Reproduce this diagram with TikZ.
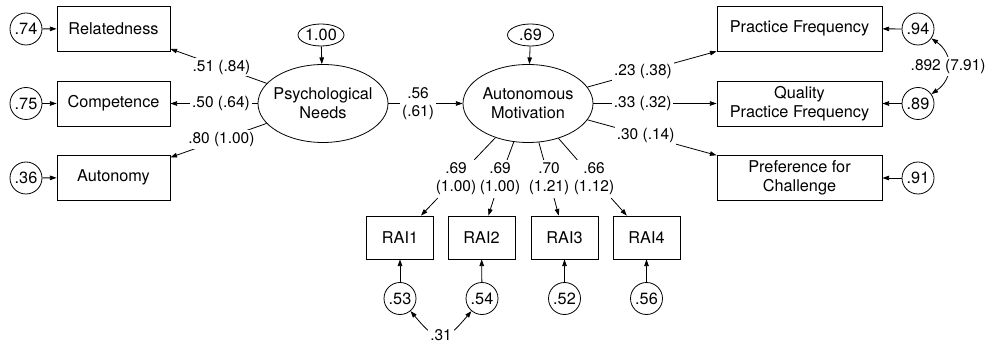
\documentclass[tikz,border=0pt]{standalone}
\usepackage{fontspec}
\setmainfont{TeX Gyre Heros}
\usetikzlibrary{arrows.meta,shapes.geometric}
\begin{document}
\begin{tikzpicture}[x=0.75pt,y=0.75pt,
  every node/.style={font=\fontsize{12.2}{14.5}\selectfont},
  lw/.style={line width=0.6pt},
  arr/.style={lw,-{Triangle[length=5pt,width=3.4pt]}},
  arrboth/.style={lw,{Triangle[length=5pt,width=3.4pt]}-{Triangle[length=5pt,width=3.4pt]}},
  lbox/.style={draw,lw,minimum width=84.75pt,minimum height=33.75pt,inner sep=0pt,align=center},
  rbox/.style={draw,lw,minimum width=123.75pt,minimum height=33.75pt,inner sep=0pt,align=center},
  raibox/.style={draw,lw,minimum width=50.25pt,minimum height=32.25pt,inner sep=0pt},
  bigell/.style={draw,lw,ellipse,minimum width=97.5pt,minimum height=58.5pt,inner xsep=-5pt,inner ysep=0pt,align=center},
  smallell/.style={draw,lw,ellipse,minimum width=34.5pt,minimum height=16.5pt,inner xsep=-3pt,inner ysep=-3pt},
  err/.style={draw,lw,circle,minimum size=24pt,inner sep=0pt},
  lbl/.style={fill=white,inner sep=1.5pt,font=\fontsize{11.6}{14}\selectfont},
  rlbl/.style={inner sep=2pt,align=center,font=\fontsize{11.6}{13.6}\selectfont}]
\useasboundingbox (0,0) rectangle (988,-345);
% left observed
\node[lbox] (Rel) at (113.5,-28.5) {Relatedness};
\node[lbox] (Comp) at (113.5,-103.5) {Competence};
\node[lbox] (Aut) at (113.5,-177.5) {Autonomy};
\node[err] (e74) at (26,-29) {.74};
\node[err] (e75) at (26,-103.5) {.75};
\node[err] (e36) at (26,-178) {.36};
% latent
\node[bigell] (PN) at (323,-103.5) {Psychological\\Needs};
\node[bigell] (AM) at (528,-103.5) {Autonomous\\Motivation};
\node[smallell] (dPN) at (321,-35) {1.00};
\node[smallell] (dAM) at (530.5,-35) {.69};
% right observed
\node[rbox] (PF) at (799.5,-28.5) {Practice Frequency};
\node[rbox] (QPF) at (799.5,-103.5) {Quality\\Practice Frequency};
\node[rbox] (PC) at (799.5,-178) {Preference for\\Challenge};
\node[err] (e94) at (918,-29) {.94};
\node[err] (e89) at (918,-103.5) {.89};
\node[err] (e91) at (918,-178) {.91};
% RAI
\node[raibox] (RAI1) at (400,-237.5) {RAI1};
\node[raibox] (RAI2) at (481.5,-237.5) {RAI2};
\node[raibox] (RAI3) at (564.5,-237.5) {RAI3};
\node[raibox] (RAI4) at (646.5,-237.5) {RAI4};
\node[err] (e53) at (400,-298.5) {.53};
\node[err] (e54) at (482,-298.5) {.54};
\node[err] (e52) at (564.5,-298.5) {.52};
\node[err] (e56) at (646.5,-298.5) {.56};
% RAI loading labels
\node[rlbl] (l1) at (456,-179) {.69\\(1.00)};
\node[rlbl] (l2) at (500,-179) {.69\\(1.00)};
\node[rlbl] (l3) at (549,-179) {.70\\(1.21)};
\node[rlbl] (l4) at (594,-179) {.66\\(1.12)};
% error arrows
\draw[arr] (e74) -- (Rel);
\draw[arr] (e75) -- (Comp);
\draw[arr] (e36) -- (Aut);
\draw[arr] (e94) -- (PF);
\draw[arr] (e89) -- (QPF);
\draw[arr] (e91) -- (PC);
\draw[arr] (dPN) -- (PN);
\draw[arr] (dAM) -- (AM);
\draw[arr] (e53) -- (RAI1);
\draw[arr] (e54) -- (RAI2);
\draw[arr] (e52) -- (RAI3);
\draw[arr] (e56) -- (RAI4);
% loadings
\draw[arr] (PN) -- node[lbl,pos=0.47] (c51) {.51 (.84)} (Rel);
\draw[arr] (PN) -- node[lbl,pos=0.42] (c50) {.50 (.64)} (Comp);
\draw[arr] (PN) -- node[lbl,pos=0.47] (c80) {.80 (1.00)} (Aut);
\draw[arr] (PN) -- node[lbl,pos=0.4,align=center] (c56) {.56\\(.61)} (AM);
\draw[arr] (AM) -- node[lbl,pos=0.43] (c23) {.23 (.38)} (PF);
\draw[arr] (AM) -- node[lbl,pos=0.40] (c33) {.33 (.32)} (QPF);
\draw[arr] (AM) -- node[lbl,pos=0.45] (c30) {.30 (.14)} (PC);
\draw[lw] (AM) -- (l1); \draw[arr] (l1) -- (RAI1);
\draw[lw] (AM) -- (l2); \draw[arr] (l2) -- (RAI2);
\draw[lw] (AM) -- (l3); \draw[arr] (l3) -- (RAI3);
\draw[lw] (AM) -- (l4); \draw[arr] (l4) -- (RAI4);
% covariances
\draw[arrboth] (e94) to[out=-35,in=35,looseness=1.25] node[lbl,inner xsep=1pt] (c892) {.892 (7.91)} (e89);
\draw[arrboth] (e53) to[out=-50,in=-130,looseness=1.8] node[lbl] (c31) {.31} (e54);
\end{tikzpicture}
\end{document}
